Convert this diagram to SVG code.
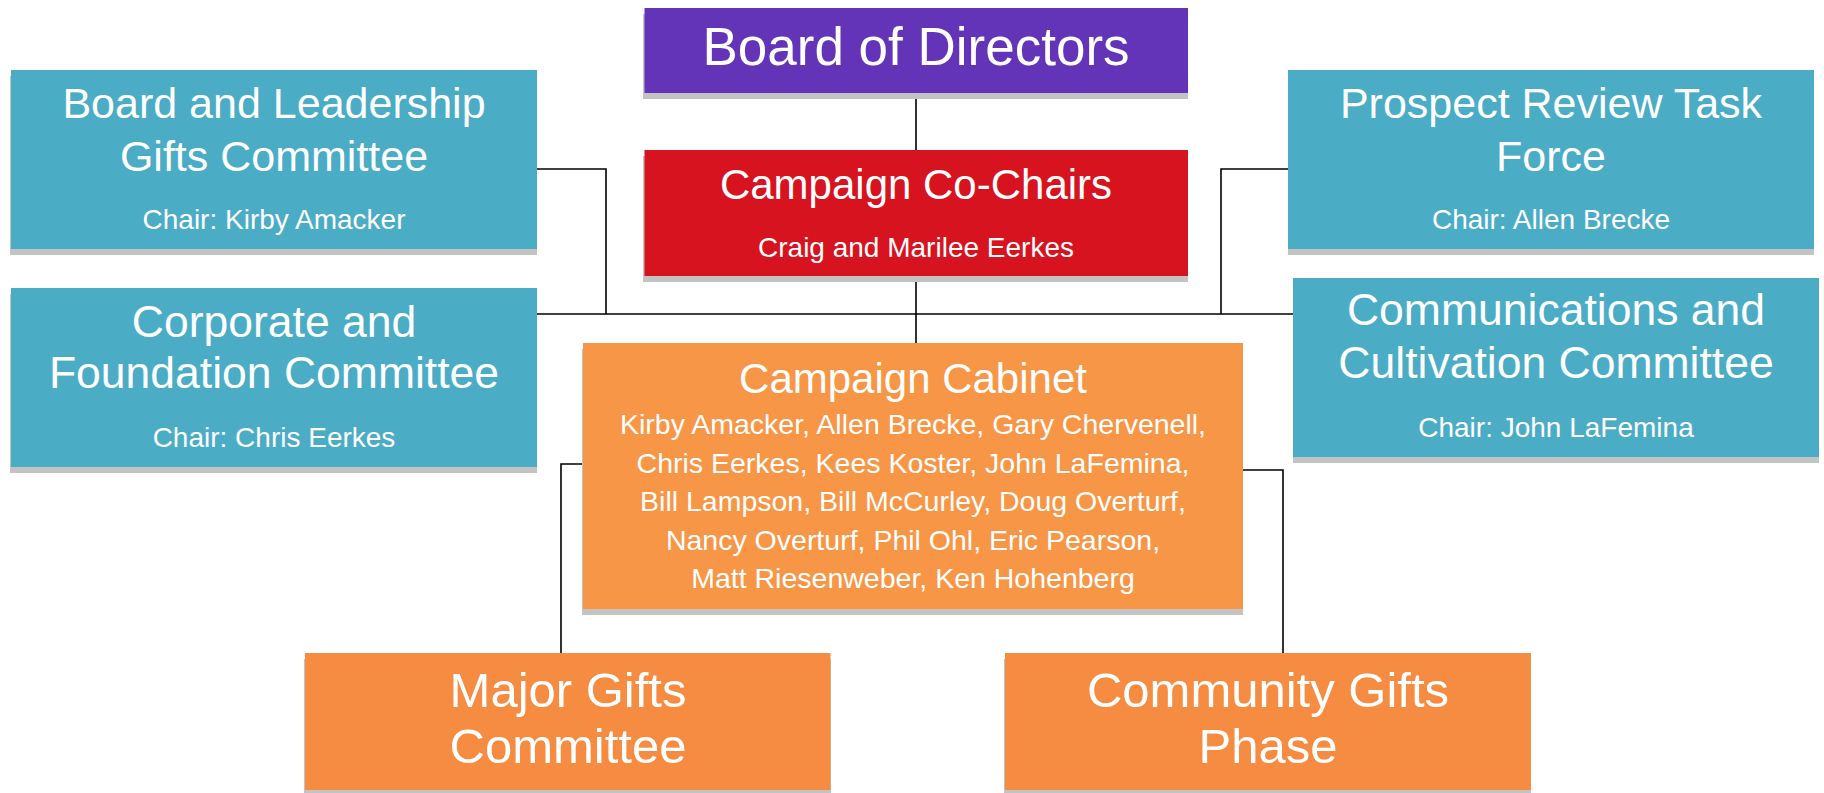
<svg xmlns="http://www.w3.org/2000/svg" width="1824" height="793" viewBox="0 0 1824 793">
<style>
text{font-family:"Liberation Sans",Arial,sans-serif;fill:#fff;text-anchor:middle}
.sh{fill:#c3c3c3}
.teal{fill:#4bacc6}
.t43{font-size:43px}
.t44{font-size:44.5px}
.t42{font-size:42px}
.s28{font-size:28px}
.b28{font-size:28.5px}
.t48{font-size:49px}
.conn{stroke:#000;stroke-width:1.6;fill:none}
</style>
<rect width="1824" height="793" fill="#fff"/>
<g id="connectors">
<path class="conn" d="M916 93V150M916 276V343"/>
<path class="conn" d="M537 314H1293"/>
<path class="conn" d="M537 169H606V314"/>
<path class="conn" d="M1288 169H1221V314"/>
<path class="conn" d="M583 464H561V653"/>
<path class="conn" d="M1243 470H1283V653"/>
</g>
<g id="board-of-directors">
<rect class="sh" x="643" y="14" width="545" height="85"/>
<rect x="644.5" y="8" width="543.5" height="85" fill="#6434b8"/>
<text x="916" y="65" font-size="53">Board of Directors</text>
</g>
<g id="campaign-co-chairs">
<rect class="sh" x="643" y="156" width="545" height="126"/>
<rect x="644.5" y="150" width="543.5" height="126" fill="#d71320"/>
<text class="t42" x="916" y="199">Campaign Co-Chairs</text>
<text class="s28" x="916" y="257">Craig and Marilee Eerkes</text>
</g>
<g id="board-leadership-gifts">
<rect class="sh" x="10" y="76" width="527" height="179"/>
<rect class="teal" x="11" y="70" width="526" height="179"/>
<text class="t43" x="274" y="118">Board and Leadership</text>
<text class="t43" x="274" y="171">Gifts Committee</text>
<text class="s28" x="274" y="229">Chair: Kirby Amacker</text>
</g>
<g id="corporate-foundation">
<rect class="sh" x="10" y="294" width="527" height="179"/>
<rect class="teal" x="11" y="288" width="526" height="179"/>
<text class="t44" x="274" y="337">Corporate and</text>
<text class="t44" x="274" y="388">Foundation Committee</text>
<text class="s28" x="274" y="447">Chair: Chris Eerkes</text>
</g>
<g id="prospect-review">
<rect class="sh" x="1288" y="76" width="526" height="179"/>
<rect class="teal" x="1288" y="70" width="526" height="179"/>
<text class="t43" x="1551" y="118">Prospect Review Task</text>
<text class="t43" x="1551" y="171">Force</text>
<text class="s28" x="1551" y="229">Chair: Allen Brecke</text>
</g>
<g id="communications-cultivation">
<rect class="sh" x="1293" y="284" width="526" height="179"/>
<rect class="teal" x="1293" y="278" width="526" height="179"/>
<text class="t44" x="1556" y="325">Communications and</text>
<text class="t44" x="1556" y="378">Cultivation Committee</text>
<text class="s28" x="1556" y="437">Chair: John LaFemina</text>
</g>
<g id="campaign-cabinet">
<rect class="sh" x="582" y="349" width="661" height="266"/>
<rect x="583" y="343" width="660" height="266" fill="#f79646"/>
<text class="t42" x="913" y="393">Campaign Cabinet</text>
<text class="b28" x="913" y="434">Kirby Amacker, Allen Brecke, Gary Chervenell,</text>
<text class="b28" x="913" y="473">Chris Eerkes, Kees Koster, John LaFemina,</text>
<text class="b28" x="913" y="511">Bill Lampson, Bill McCurley, Doug Overturf,</text>
<text class="b28" x="913" y="550">Nancy Overturf, Phil Ohl, Eric Pearson,</text>
<text class="b28" x="913" y="588">Matt Riesenweber, Ken Hohenberg</text>
</g>
<g id="major-gifts">
<rect class="sh" x="304" y="659" width="527" height="137"/>
<rect x="305" y="653" width="525.5" height="137" fill="#f58c42"/>
<text class="t48" x="568" y="707">Major Gifts</text>
<text class="t48" x="568" y="763">Committee</text>
</g>
<g id="community-gifts">
<rect class="sh" x="1004" y="659" width="527" height="137"/>
<rect x="1005" y="653" width="526" height="137" fill="#f58c42"/>
<text class="t48" x="1268" y="707">Community Gifts</text>
<text class="t48" x="1268" y="763">Phase</text>
</g>
</svg>
